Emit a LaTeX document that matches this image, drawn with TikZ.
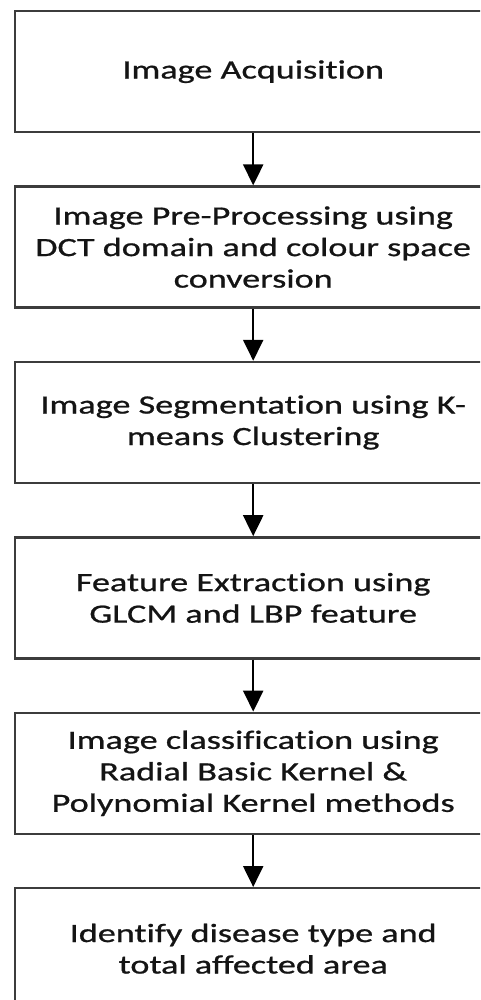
\documentclass[tikz,border=0pt]{standalone}
\usepackage{fontspec}
\setmainfont{Carlito}[FakeStretch=1.37,FakeBold=0.8,Ligatures=NoCommon]
\usepackage{tikz}
\usetikzlibrary{arrows.meta,positioning}
\definecolor{fcInk}{HTML}{141414}
\definecolor{fcEdge}{HTML}{3C3C3C}
\tikzset{
  % Process step box
  stepbox/.style={rectangle,draw=fcEdge,line width=2.4pt,fill=white,
    minimum width=476pt,minimum height=121pt,inner sep=0pt,
    align=center,text=fcInk,font=\fontsize{26.4}{31.5}\selectfont},
  % Arrows
  arr/.style={-{Triangle[width=20pt,length=21pt]},line width=2.2pt,color=black},
}
\begin{document}
\begin{tikzpicture}[x=1pt,y=1pt]
  \clip (0,0) rectangle (480,-1000);
  \fill[white] (0,0) rectangle (480,-1000);

  % Steps
  \node[stepbox,anchor=north west] (acq) at (14,-10) {Image Acquisition};
  \node[stepbox,below=52pt of acq] (pre)
    {Image Pre-Processing using\\DCT domain and colour space\\conversion};
  \node[stepbox,below=52pt of pre] (seg)
    {Image Segmentation using K-\\means Clustering};
  \node[stepbox,below=52pt of seg] (feat)
    {Feature Extraction using\\GLCM and LBP feature};
  \node[stepbox,below=52pt of feat] (cls)
    {Image classification using\\Radial Basic Kernel \&\\Polynomial Kernel methods};
  \node[stepbox,below=52pt of cls] (ident)
    {Identify disease type and\\total affected area};

  % Arrows
  \draw[arr] (acq) -- (pre);
  \draw[arr] (pre) -- (seg);
  \draw[arr] (seg) -- (feat);
  \draw[arr] (feat) -- (cls);
  \draw[arr] (cls) -- (ident);
\end{tikzpicture}
\end{document}
